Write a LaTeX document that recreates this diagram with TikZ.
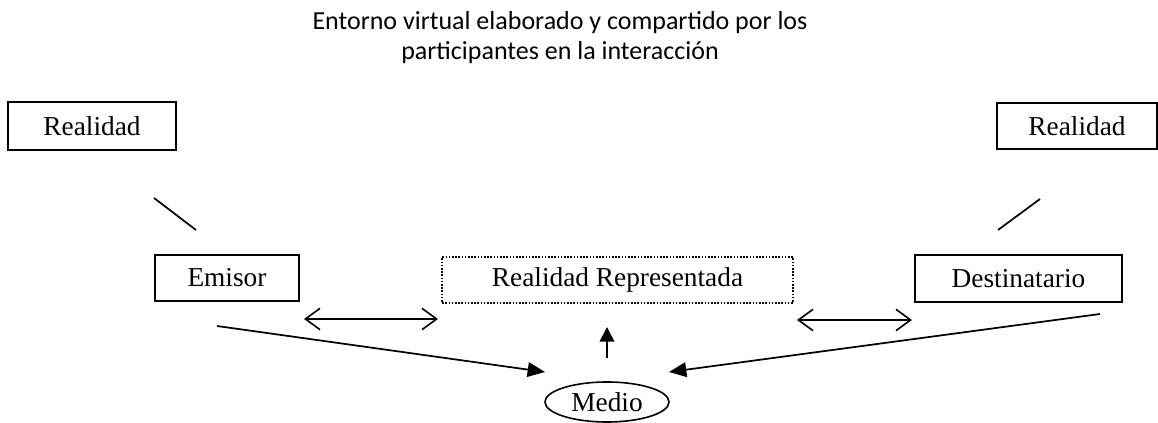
\documentclass[tikz,border=0pt]{standalone}
\usepackage{fontspec}
\setmainfont{Liberation Serif}
\newfontfamily\titlefont{Carlito}
\usetikzlibrary{arrows.meta,shapes.geometric}
\tikzset{
  boxnode/.style={draw, line width=1.2pt, inner sep=0pt, font=\fontsize{20.5}{24}\selectfont},
  dotbox/.style={draw, line width=1.4pt, dash pattern=on 1.2pt off 1.2pt, inner sep=0pt, font=\fontsize{20.5}{24}\selectfont},
  plainline/.style={line width=1.3pt},
  dblarrow/.style={line width=1.2pt, {Straight Barb[length=11pt,width=16pt]}-{Straight Barb[length=11pt,width=16pt]}},
  medarrow/.style={line width=1.3pt, -{Triangle[length=13pt,width=11pt]}},
  uparrow/.style={line width=1.2pt, -{Triangle[length=11pt,width=11pt]}},
  titletext/.style={font=\titlefont\fontsize{19.5}{22.5}\selectfont, align=center, inner sep=0pt}
}
\begin{document}
\begin{tikzpicture}[x=0.75pt,y=-0.75pt]
\useasboundingbox (0,0) rectangle (1158,423);
% title
\node[titletext] (title) at (560,38) {Entorno virtual elaborado y compartido por los\\participantes en la interacci\'on};
% boxes
\node[boxnode, minimum width=126pt, minimum height=36pt] (realL) at (92,126) {Realidad};
\node[boxnode, minimum width=120pt, minimum height=34.5pt] (realR) at (1077,126) {Realidad};
\node[boxnode, minimum width=108pt, minimum height=34.5pt] (emisor) at (227,278) {Emisor};
\node[dotbox, minimum width=263pt, minimum height=34.5pt] (rr) at (617.5,280) {Realidad Representada};
\node[boxnode, minimum width=155pt, minimum height=35pt] (dest) at (1018.5,278.5) {Destinatario};
\node[draw, ellipse, line width=1.2pt, minimum width=93pt, minimum height=30pt, inner sep=0pt, font=\fontsize{20.5}{24}\selectfont] (medio) at (607,402) {Medio};
% coordinates
\coordinate (l1a) at (154,198);
\coordinate (l1b) at (196,230);
\coordinate (l2a) at (998,230);
\coordinate (l2b) at (1040,199);
\coordinate (d1a) at (304,319);
\coordinate (d1b) at (438,319);
\coordinate (d2a) at (797,320);
\coordinate (d2b) at (912,320);
\coordinate (m1a) at (217,326);
\coordinate (m1b) at (545,372);
\coordinate (m2a) at (1100,314);
\coordinate (m2b) at (669,372);
\coordinate (upa) at (607,358);
\coordinate (upb) at (607,327);
% connectors
\draw[plainline] (l1a) -- (l1b);
\draw[plainline] (l2a) -- (l2b);
\draw[dblarrow] (d1a) -- (d1b);
\draw[dblarrow] (d2a) -- (d2b);
\draw[medarrow] (m1a) -- (m1b);
\draw[medarrow] (m2a) -- (m2b);
\draw[uparrow] (upa) -- (upb);
\end{tikzpicture}
\end{document}
